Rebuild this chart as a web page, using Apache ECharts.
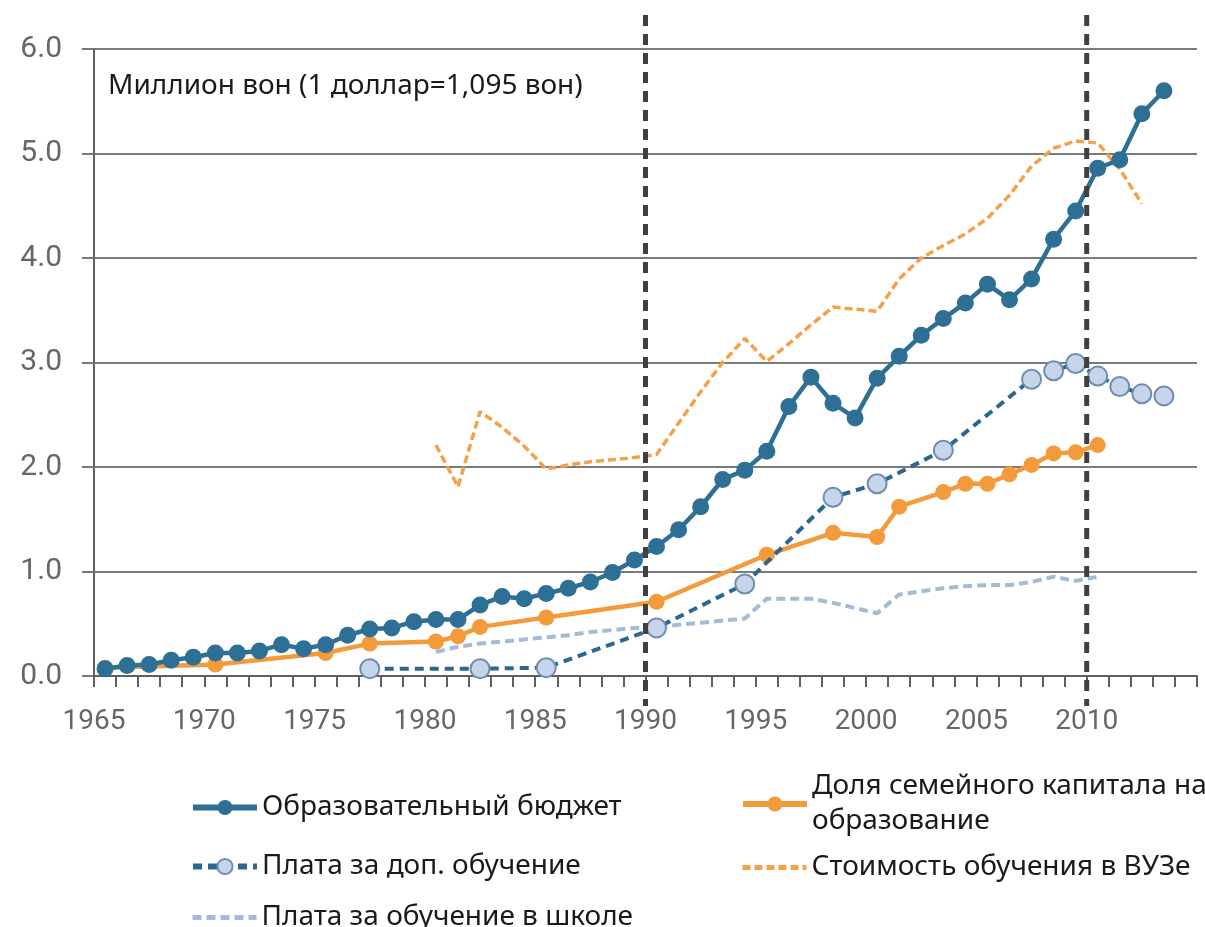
<!DOCTYPE html>
<html>
<head>
<meta charset="utf-8">
<script src="https://cdn.jsdelivr.net/npm/echarts@6/dist/echarts.min.js"></script>
<style>html,body{margin:0;padding:0;background:#fff;}#c{width:1205px;height:927px;}</style>
</head>
<body>
<div id="c"></div>
<script>
// ---- data ----
const budgetYears = [1965,1966,1967,1968,1969,1970,1971,1972,1973,1974,1975,1976,1977,1978,1979,1980,1981,1982,1983,1984,1985,1986,1987,1988,1989,1990,1991,1992,1993,1994,1995,1996,1997,1998,1999,2000,2001,2002,2003,2004,2005,2006,2007,2008,2009,2010,2011,2012,2013];
const budgetValues = [0.07,0.10,0.11,0.15,0.18,0.22,0.22,0.24,0.30,0.26,0.30,0.39,0.45,0.46,0.52,0.54,0.54,0.68,0.76,0.74,0.79,0.84,0.90,0.99,1.11,1.24,1.40,1.62,1.88,1.97,2.15,2.58,2.86,2.61,2.47,2.85,3.06,3.26,3.42,3.57,3.75,3.60,3.80,4.18,4.45,4.86,4.94,5.38,5.60];

const familyYears = [1965,1970,1975,1977,1980,1981,1982,1985,1990,1995,1998,2000,2001,2003,2004,2005,2006,2007,2008,2009,2010];
const familyValues = [0.08,0.11,0.22,0.31,0.33,0.38,0.47,0.56,0.71,1.16,1.37,1.33,1.62,1.76,1.84,1.84,1.93,2.02,2.13,2.14,2.21];

const privateYears = [1977,1982,1985,1990,1994,1998,2000,2003,2007,2008,2009,2010,2011,2012,2013];
const privateValues = [0.07,0.07,0.08,0.46,0.88,1.71,1.84,2.16,2.84,2.92,2.99,2.87,2.77,2.70,2.68];

const schoolYears = [1980,1981,1982,1983,1984,1985,1986,1987,1988,1989,1990,1991,1992,1993,1994,1995,1996,1997,1998,1999,2000,2001,2002,2003,2004,2005,2006,2007,2008,2009,2010];
const schoolValues = [0.23,0.28,0.31,0.33,0.35,0.37,0.39,0.42,0.44,0.46,0.47,0.49,0.51,0.53,0.55,0.74,0.74,0.74,0.70,0.65,0.60,0.78,0.81,0.84,0.86,0.87,0.87,0.90,0.95,0.91,0.95];

const univYears = [1980,1981,1982,1983,1984,1985,1986,1987,1988,1989,1990,1991,1992,1993,1994,1995,1996,1997,1998,1999,2000,2001,2002,2003,2004,2005,2006,2007,2008,2009,2010,2011,2012];
const univValues = [2.21,1.81,2.53,2.38,2.20,1.98,2.02,2.05,2.07,2.09,2.12,2.42,2.72,3.00,3.23,3.01,3.18,3.36,3.53,3.51,3.49,3.80,4.00,4.12,4.23,4.38,4.60,4.88,5.05,5.12,5.10,4.85,4.52];

const seriesNames = ['Образовательный бюджет','Доля семейного капитала на образование','Плата за доп. обучение','Стоимость обучения в ВУЗе','Плата за обучение в школе'];
const markerYears = [1990, 2010];
const unitLabel = 'Миллион вон (1 доллар=1,095 вон)';
const xMin = 1965, xMax = 2015, yMin = 0, yMax = 6;

// ---- chart ----
const pts = (ys, vs) => ys.map((y, i) => [y + 0.5, vs[i]]);
const chart = echarts.init(document.getElementById('c'));
const textFont = "'Noto Sans', 'Open Sans', sans-serif";
const legendCommon = { itemWidth: 64, itemHeight: 19, textStyle: { fontFamily: textFont, fontSize: 28, color: '#1a1a1a', lineHeight: 35 },
  itemGap: 0, selectedMode: false, lineStyle: { width: 6 } };
const dashLegend = Object.assign({}, legendCommon, { itemStyle: { opacity: 0 }, lineStyle: { width: 5 } });

const option = {
  animation: false,
  backgroundColor: '#fff',
  grid: { left: 94, right: 8, top: 49, bottom: 251, containLabel: false },
  xAxis: {
    type: 'value', min: xMin, max: xMax, interval: 1,
    axisLine: { show: true, lineStyle: { color: '#5f5f5f', width: 2 } },
    axisTick: { show: true, length: 11, lineStyle: { color: '#5f5f5f', width: 2 } },
    axisLabel: { margin: 32, fontFamily: 'Roboto', fontSize: 28, color: '#666',
      formatter: v => (v % 5 === 0 && v < xMax) ? String(v) : '' },
    splitLine: { show: false }
  },
  yAxis: {
    type: 'value', min: yMin, max: yMax, interval: 1,
    axisLine: { show: true, lineStyle: { color: '#5f5f5f', width: 2 } },
    axisTick: { show: true, length: 12, lineStyle: { color: '#7a7a7a', width: 2 } },
    axisLabel: { margin: 32, fontFamily: 'Roboto', fontSize: 30, color: '#666', formatter: v => v.toFixed(1) },
    splitLine: { show: true, lineStyle: { color: '#7a7a7a', width: 2 } }
  },
  legend: [
    Object.assign({}, legendCommon, { data: [seriesNames[0]], left: 185, top: 785 }),
    Object.assign({}, legendCommon, { data: [seriesNames[2]], left: 185, top: 844 }),
    Object.assign({}, dashLegend, { data: [seriesNames[4]], left: 185, top: 895 }),
    Object.assign({}, legendCommon, { data: [seriesNames[1]], left: 735, top: 764,
      formatter: n => n.replace(' на ', ' на\n') }),
    Object.assign({}, dashLegend, { data: [seriesNames[3]], left: 735, top: 845 })
  ],
  series: [
    { name: seriesNames[4], type: 'line', data: pts(schoolYears, schoolValues), z: 2,
      symbol: 'none', lineStyle: { color: '#a2bcd8', width: 4, type: [9, 5] }, itemStyle: { color: '#a2bcd8' } },
    { name: seriesNames[3], type: 'line', data: pts(univYears, univValues), z: 2,
      symbol: 'none', lineStyle: { color: '#f5a04a', width: 3.5, type: [8, 4] }, itemStyle: { color: '#f5a04a' } },
    { name: seriesNames[1], type: 'line', data: pts(familyYears, familyValues), z: 3,
      symbol: 'circle', symbolSize: 16, lineStyle: { color: '#f39a3b', width: 4.5 }, itemStyle: { color: '#f39a3b' } },
    { name: seriesNames[2], type: 'line', data: pts(privateYears, privateValues), z: 4,
      symbol: 'circle', symbolSize: 19, lineStyle: { color: '#2b6790', width: 4, type: [9, 6] },
      itemStyle: { color: '#c6d5ea', borderColor: '#6e8db0', borderWidth: 2 } },
    { name: seriesNames[0], type: 'line', data: pts(budgetYears, budgetValues), z: 5,
      symbol: 'circle', symbolSize: 17, lineStyle: { color: '#2e6f96', width: 4.5 }, itemStyle: { color: '#2e6f96' } }
  ]
};
chart.setOption(option);

// vertical dashed markers through the axis scale
const graphics = markerYears.map(yr => {
  const x = chart.convertToPixel({ xAxisIndex: 0 }, yr);
  return { type: 'line', z: 10, shape: { x1: x, y1: 15, x2: x, y2: 706 },
    style: { stroke: '#404040', lineWidth: 5, lineDash: [11, 8] } };
});
graphics.push({ type: 'text', left: 108, top: 72, z: 11,
  style: { text: unitLabel, font: "28px 'Noto Sans', sans-serif", fill: '#1a1a1a' } });
chart.setOption({ graphic: graphics });
</script>
</body>
</html>
